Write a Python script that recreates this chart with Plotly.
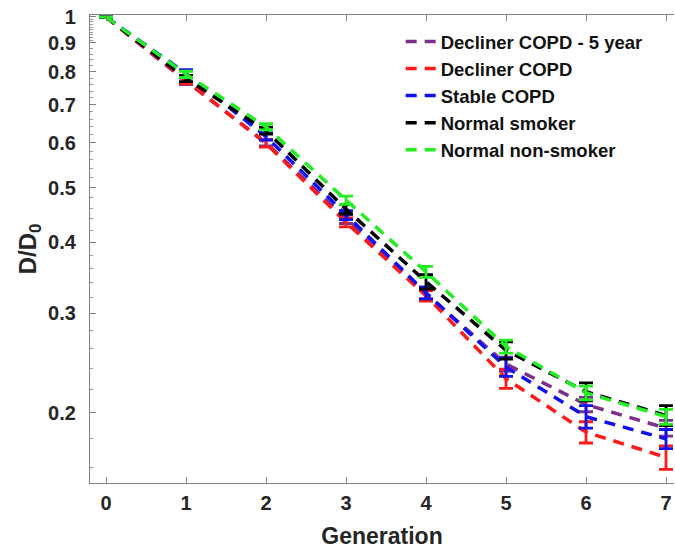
import plotly.graph_objects as go

generation = [0, 1, 2, 3, 4, 5, 6, 7]

names = ["Decliner COPD - 5 year", "Decliner COPD", "Stable COPD",
         "Normal smoker", "Normal non-smoker"]
colors = ["#7E2F8E", "#FF1A1A", "#1010F0", "#000000", "#22EE22"]

purple_val = [1.0, 0.770, 0.600, 0.440, 0.325, 0.244, 0.207, 0.188]
purple_err = [0.0, 0.010, 0.008, 0.008, 0.007, 0.007, 0.006, 0.006]
red_val = [1.0, 0.772, 0.598, 0.434, 0.322, 0.230, 0.185, 0.167]
red_err = [0.0, 0.010, 0.009, 0.008, 0.007, 0.009, 0.008, 0.008]
blue_val = [1.0, 0.795, 0.615, 0.447, 0.326, 0.241, 0.197, 0.180]
blue_err = [0.0, 0.012, 0.009, 0.008, 0.008, 0.009, 0.009, 0.007]
black_val = [1.0, 0.779, 0.630, 0.458, 0.341, 0.258, 0.218, 0.198]
black_err = [0.0, 0.010, 0.009, 0.009, 0.010, 0.009, 0.008, 0.008]
green_val = [1.0, 0.792, 0.640, 0.475, 0.355, 0.262, 0.217, 0.197]
green_err = [0.0, 0.010, 0.008, 0.008, 0.008, 0.007, 0.006, 0.006]

series = [purple_val, red_val, blue_val, black_val, green_val]
errors = [purple_err, red_err, blue_err, black_err, green_err]

y_major = [0.2, 0.3, 0.4, 0.5, 0.6, 0.7, 0.8, 0.9, 1]
y_major_text = ["0.2", "0.3", "0.4", "0.5", "0.6", "0.7", "0.8", "0.9", "1"]
y_minor = [0.16, 0.18, 0.22, 0.24, 0.26, 0.28, 0.32, 0.34, 0.36, 0.38,
           0.42, 0.44, 0.46, 0.48, 0.52, 0.54, 0.56, 0.58,
           0.62, 0.64, 0.66, 0.68, 0.72, 0.74, 0.76, 0.78,
           0.82, 0.84, 0.86, 0.88, 0.91, 0.92, 0.93, 0.94, 0.95, 0.96, 0.97, 0.98, 0.99]

fig = go.Figure()
for name, col, vals, errs in zip(names, colors, series, errors):
    fig.add_trace(go.Scatter(
        x=generation, y=vals, name=name, mode="lines",
        line=dict(color=col, width=3.5, dash="11px,8px"),
        error_y=dict(type="data", array=errs, visible=True, color=col,
                     thickness=2.8, width=7),
    ))

FAM = "Liberation Sans, Arial, sans-serif"
tick_font = dict(family=FAM, size=20, color="#262626", weight="bold")

fig.update_layout(
    width=675, height=550,
    margin=dict(l=90, r=1, t=15, b=67),
    plot_bgcolor="white", paper_bgcolor="white",
    font=dict(family=FAM, color="#262626"),
    showlegend=True,
    legend=dict(x=0.532, y=0.983, xanchor="left", yanchor="top",
                bgcolor="rgba(255,255,255,0)",
                font=dict(family=FAM, size=18.5, color="#111111", weight="bold"),
                itemwidth=30, tracegroupgap=0),
    xaxis=dict(range=[-0.2, 7.1], tickmode="array", tickvals=generation,
               ticktext=[str(g) for g in generation],
               ticks="inside", ticklen=6, tickcolor="#808080",
               showline=True, linecolor="#808080", linewidth=1.2, mirror="ticks",
               showgrid=False, zeroline=False,
               tickfont=tick_font, ticklabelstandoff=2,
               title=dict(text="Generation", standoff=14,
                          font=dict(family=FAM, size=23, color="#262626",
                                    weight="bold"))),
    yaxis=dict(type="log", range=[-0.8226, 0.0035], tickmode="array",
               tickvals=y_major, ticktext=y_major_text,
               ticks="inside", ticklen=6, tickcolor="#808080",
               minor=dict(tickmode="array", tickvals=y_minor, ticks="inside",
                          ticklen=3, tickcolor="#999999", showgrid=False),
               showline=True, linecolor="#808080", linewidth=1.2, mirror=False,
               showgrid=False, zeroline=False,
               tickfont=tick_font, ticklabelstandoff=9,
               title=dict(text="D/D<sub>0</sub>", standoff=4,
                          font=dict(family=FAM, size=24, color="#262626",
                                    weight="bold"))),
)

fig.write_html("out.html")
